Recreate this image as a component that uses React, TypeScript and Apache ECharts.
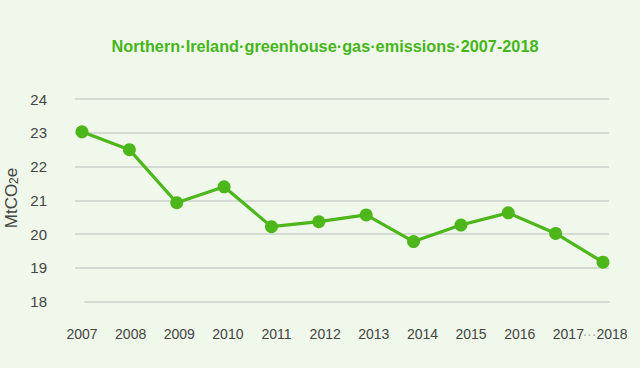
import React, { useEffect, useRef } from "react";
import * as echarts from "echarts";

const years = ["2007", "2008", "2009", "2010", "2011", "2012", "2013", "2014", "2015", "2016", "2017", "2018"];
const emissions = [23.03, 22.5, 20.93, 21.4, 20.22, 20.37, 20.57, 19.78, 20.27, 20.63, 20.02, 19.17];
const yMin = 18;
const yMax = 24;
const yStep = 1;
const titleText = "Northern·Ireland·greenhouse·gas·emissions·2007-2018";

const GREEN = "#4db61a";
const BG = "#f0f8eb";
const GRID_COLOR = "#ccd0cb";
const FONT = "Liberation Sans, Arial, Helvetica, sans-serif";

export default function App() {
  const ref = useRef<HTMLDivElement>(null);
  useEffect(() => {
    document.body.style.margin = "0";
    document.body.style.background = BG;
    const chart = echarts.init(ref.current!, null, { renderer: "svg" });
    const top = 99;
    const bottom = 368 - 301.7;
    const g = { top, bottom, containLabel: false, outerBoundsMode: "none" };
    chart.setOption({
      animation: false,
      backgroundColor: BG,
      textStyle: { fontFamily: FONT },
      grid: [
        { ...g, left: 75, right: 640 - 609 },
        { ...g, left: 82, right: 640 - 603 },
        { ...g, left: 82, right: 640 - 617 },
        { ...g, left: 85, right: 640 - 609 },
      ],
      xAxis: [
        { type: "category", gridIndex: 0, data: years, show: false },
        { type: "category", gridIndex: 1, data: years, boundaryGap: false, show: false },
        {
          type: "category",
          gridIndex: 2,
          data: years,
          boundaryGap: false,
          axisLine: { show: false },
          axisTick: { show: false },
          axisLabel: {
            color: "#444",
            fontSize: 14,
            fontFamily: FONT,
            margin: 25,
            interval: 0,
            formatter: (v: string, i: number) =>
              i === years.length - 1 ? "{d|···}{y|" + v + "}" : v,
            rich: {
              d: { color: "#aaa", fontSize: 14, fontFamily: FONT },
              y: { color: "#444", fontSize: 14, fontFamily: FONT, padding: [0, 24, 0, 0] },
            },
          },
        },
        {
          type: "category",
          gridIndex: 3,
          data: years,
          axisLine: { show: true, lineStyle: { color: GRID_COLOR, width: 1.6 } },
          axisTick: { show: false },
          axisLabel: { show: false },
        },
      ],
      yAxis: [
        {
          type: "value",
          gridIndex: 0,
          min: yMin,
          max: yMax,
          interval: yStep,
          axisLine: { show: false },
          axisTick: { show: false },
          axisLabel: { color: "#444", fontSize: 15, fontFamily: FONT, margin: 28, align: "right" },
          splitLine: { showMinLine: false, lineStyle: { color: GRID_COLOR, width: 1.6 } },
        },
        { type: "value", gridIndex: 1, min: yMin, max: yMax, interval: yStep, show: false, splitLine: { show: false } },
        { type: "value", gridIndex: 2, min: yMin, max: yMax, interval: yStep, show: false, splitLine: { show: false } },
        { type: "value", gridIndex: 3, min: yMin, max: yMax, interval: yStep, show: false, splitLine: { show: false } },
      ],
      series: [
        {
          type: "line",
          xAxisIndex: 1,
          yAxisIndex: 1,
          data: emissions,
          symbol: "circle",
          symbolSize: 13,
          lineStyle: { color: GREEN, width: 3.2 },
          itemStyle: { color: GREEN },
          z: 5,
        },
      ],
      graphic: [
        {
          type: "text",
          x: 325,
          y: 46,
          style: {
            text: titleText,
            fill: "#46b51a",
            font: "bold 16.3px " + FONT,
            align: "center",
            verticalAlign: "middle",
          },
        },
        {
          type: "text",
          x: 11,
          y: 198,
          rotation: Math.PI / 2,
          style: {
            text: "{a|MtCO}{s|2}{a|e}",
            align: "center",
            verticalAlign: "middle",
            rich: {
              a: { fontSize: 17, fontFamily: FONT, fill: "#444", lineHeight: 18, verticalAlign: "bottom" },
              s: { fontSize: 12, fontFamily: FONT, fill: "#444", lineHeight: 8, verticalAlign: "bottom" },
            },
          },
        },
      ],
    });
    return () => chart.dispose();
  }, []);
  return <div ref={ref} style={{ width: 640, height: 368 }} />;
}
